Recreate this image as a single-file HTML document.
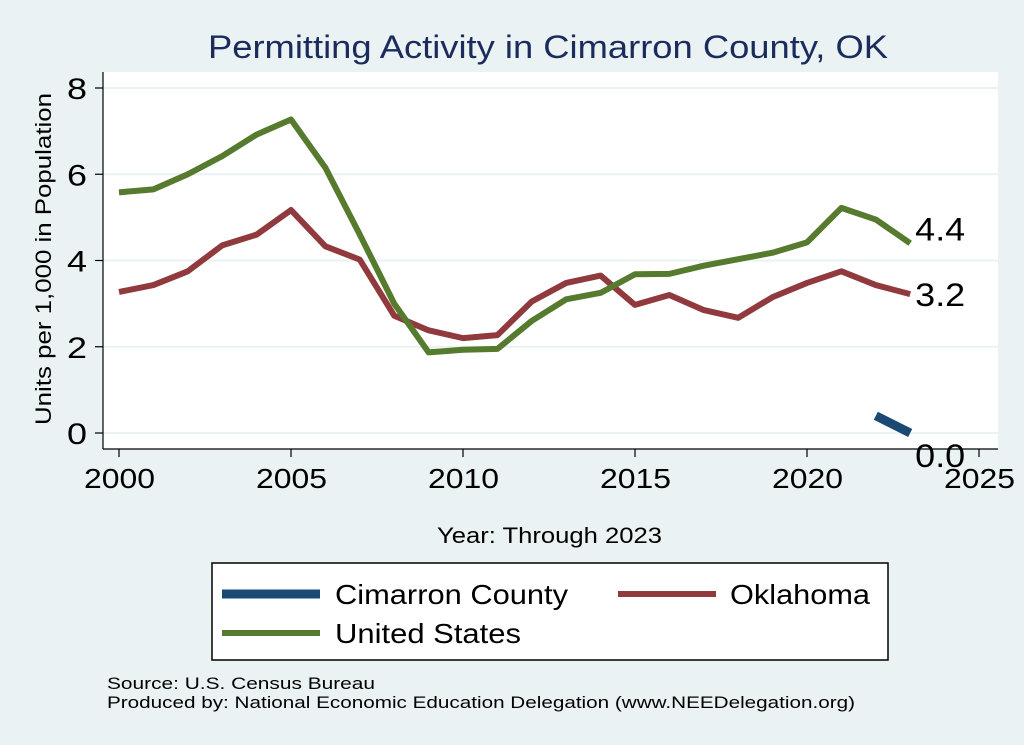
<!DOCTYPE html>
<html><head><meta charset="utf-8"><style>
body{margin:0;background:#eaf2f3;}
svg{display:block;font-family:"Liberation Sans",sans-serif;}
</style></head><body>
<svg id="chart" width="1024" height="745">
<rect x="0" y="0" width="1024" height="745" fill="#eaf2f3"/>
<text x="208" y="58" font-size="32" fill="#1a2b5c" textLength="680" lengthAdjust="spacingAndGlyphs">Permitting Activity in Cimarron County, OK</text>
<rect x="103" y="72" width="895" height="377" fill="#fff"/>
<g id="grid"></g>
<g id="axes"></g>
<g id="series"></g>
<text x="51" y="425" font-size="22" transform="rotate(-90 51 425)" textLength="332" lengthAdjust="spacingAndGlyphs">Units per 1,000 in Population</text>
<text x="437" y="543" font-size="22" textLength="225" lengthAdjust="spacingAndGlyphs">Year: Through 2023</text>
<g>
<rect x="212" y="563" width="676" height="97" fill="#fff" stroke="#000" stroke-width="1.5"/>
<line x1="222" y1="594" x2="320" y2="594" stroke="#1a4a73" stroke-width="9"/>
<text x="335" y="604" font-size="28" textLength="233" lengthAdjust="spacingAndGlyphs">Cimarron County</text>
<line x1="618" y1="594" x2="716" y2="594" stroke="#903a3e" stroke-width="6"/>
<text x="730" y="604" font-size="28" textLength="140" lengthAdjust="spacingAndGlyphs">Oklahoma</text>
<line x1="222" y1="633" x2="320" y2="633" stroke="#567a2e" stroke-width="6"/>
<text x="335" y="643" font-size="28" textLength="186" lengthAdjust="spacingAndGlyphs">United States</text>
</g>
<text x="107" y="689" font-size="17" textLength="268" lengthAdjust="spacingAndGlyphs">Source: U.S. Census Bureau</text>
<text x="107" y="708" font-size="17" textLength="748" lengthAdjust="spacingAndGlyphs">Produced by: National Economic Education Delegation (www.NEEDelegation.org)</text>
</svg>
<script>
const years=[2000,2001,2002,2003,2004,2005,2006,2007,2008,2009,2010,2011,2012,2013,2014,2015,2016,2017,2018,2019,2020,2021,2022,2023];
const usValues=[5.58,5.65,6.0,6.42,6.92,7.27,6.15,4.6,3.0,1.87,1.93,1.95,2.6,3.1,3.25,3.68,3.69,3.88,4.03,4.18,4.42,5.22,4.95,4.4];
const okValues=[3.27,3.43,3.75,4.35,4.6,5.17,4.33,4.02,2.72,2.38,2.2,2.27,3.05,3.48,3.65,2.97,3.2,2.85,2.67,3.15,3.48,3.75,3.43,3.22];
const cimYears=[2022,2023];
const cimValues=[0.4,0.0];
const yTicks=[0,2,4,6,8];
const xTicks=[2000,2005,2010,2015,2020,2025];
const NS='http://www.w3.org/2000/svg';
const xs=v=>119+(v-2000)*(979-119)/25;
const ys=v=>433-v*(433-88)/8;
function mk(tag,attrs,parent,text){const e=document.createElementNS(NS,tag);for(const k in attrs)e.setAttribute(k,attrs[k]);if(text!==undefined)e.textContent=text;parent.appendChild(e);return e;}
const grid=document.getElementById('grid'),axes=document.getElementById('axes'),series=document.getElementById('series');
yTicks.forEach(t=>{
 const g=mk('line',{x1:103,x2:998,y1:ys(t),y2:ys(t),stroke:'#eaf2f3','stroke-width':2},grid);
 
 
 const tk=mk('line',{x1:95,x2:103,y1:ys(t),y2:ys(t),stroke:'#000','stroke-width':1.2},axes);
 
 
 const lb=mk('text',{x:87,y:ys(t)+11,'font-size':30,'text-anchor':'end',textLength:20,lengthAdjust:'spacingAndGlyphs'},axes,String(t));
 
 
});
mk('line',{x1:103,x2:103,y1:72,y2:449,stroke:'#000','stroke-width':1.2},axes);
mk('line',{x1:103,x2:998,y1:449,y2:449,stroke:'#000','stroke-width':1.2},axes);
xTicks.forEach(t=>{
 const tk=mk('line',{x1:xs(t),x2:xs(t),y1:449,y2:457,stroke:'#000','stroke-width':1.2},axes);
 
 
 const lb=mk('text',{x:xs(t)-35,y:488,'font-size':28,textLength:71,lengthAdjust:'spacingAndGlyphs'},axes,String(t));
 
 
});
function line(xv,yv,color,w,name){
 const p=mk('polyline',{points:xv.map((x,i)=>xs(x)+','+ys(yv[i])).join(' '),fill:'none',stroke:color,'stroke-width':w,'stroke-linejoin':'round'},series);
 
 
}
line(years,okValues,'#903a3e',6,'oklahoma-line');
line(years,usValues,'#567a2e',6,'us-line');
line(cimYears,cimValues,'#1a4a73',9,'cimarron-line');
function endLabel(v,name,dy){
 const t=mk('text',{x:xs(2023)+5,y:ys(v)+dy,'font-size':32,textLength:50,lengthAdjust:'spacingAndGlyphs'},series,v.toFixed(1));
 
 
}
endLabel(usValues[usValues.length-1],'us-end-label',-3);
endLabel(okValues[okValues.length-1],'oklahoma-end-label',12);
endLabel(cimValues[cimValues.length-1],'cimarron-end-label',34);
</script>
</body></html>
